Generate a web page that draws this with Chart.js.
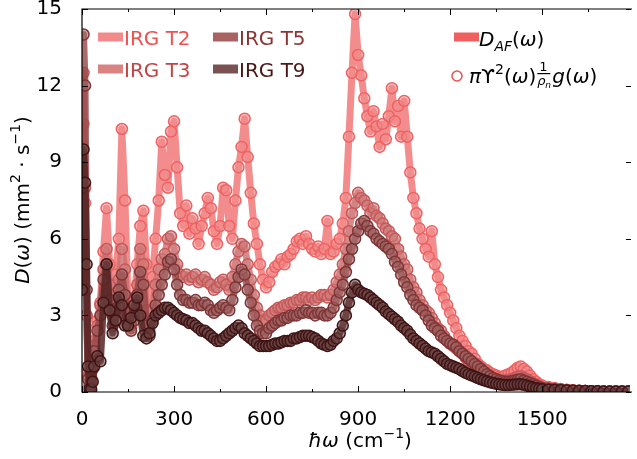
<!DOCTYPE html>
<html>
<head>
<meta charset="utf-8">
<script src="https://cdn.jsdelivr.net/npm/chart.js@4"></script>
<style>
  html, body { margin: 0; padding: 0; background: #fff; }
  canvas { display: block; }
</style>
</head>
<body>
<canvas id="diffChart" width="637" height="459"></canvas>
<script>
// ---- data ----
const freq = [0, 5, 10, 15, 20, 25, 30, 35, 40,
  50, 60, 70, 80, 90, 100, 110, 120, 130, 140,
  150, 160, 170, 180, 190, 200, 210, 220, 230, 240,
  250, 260, 270, 280, 290, 300, 310, 320, 330, 340,
  350, 360, 370, 380, 390, 400, 410, 420, 430, 440,
  450, 460, 470, 480, 490, 500, 510, 520, 530, 540,
  550, 560, 570, 580, 590, 600, 610, 620, 630, 640,
  650, 660, 670, 680, 690, 700, 710, 720, 730, 740,
  750, 760, 770, 780, 790, 800, 810, 820, 830, 840,
  850, 860, 870, 880, 890, 900, 910, 920, 930, 940,
  950, 960, 970, 980, 990, 1000, 1010, 1020, 1030, 1040,
  1050, 1060, 1070, 1080, 1090, 1100, 1110, 1120, 1130, 1140,
  1150, 1160, 1170, 1180, 1190, 1200, 1210, 1220, 1230, 1240,
  1250, 1260, 1270, 1280, 1290, 1300, 1310, 1320, 1330, 1340,
  1350, 1360, 1370, 1380, 1390, 1400, 1410, 1420, 1430, 1440,
  1450, 1460, 1470, 1480, 1490, 1500,
  1520, 1540, 1560, 1580, 1600, 1620, 1640, 1660, 1680, 1700, 1720, 1740, 1760, 1780];

const irgT2 = [6.0, 10.5, 7.4, 3.0, 0.8, 0.4, 0.6, 1.2, 2.0,
  2.8, 3.5, 5.5, 7.2, 5.0, 4.0, 4.6, 6.0, 10.3, 7.5,
  3.5, 2.5, 3.5, 5.0, 6.5, 7.1, 5.0, 3.0, 4.5, 6.0,
  7.5, 9.8, 8.5, 8.0, 10.2, 10.6, 8.8, 7.0, 6.5, 7.3,
  6.2, 6.8, 6.4, 5.8, 6.5, 7.0, 7.6, 7.2, 6.3, 5.8,
  6.5, 8.0, 7.9, 6.5, 6.0, 7.5, 8.8, 9.6, 10.7, 9.2,
  7.8, 6.6, 5.8, 5.0, 4.4, 4.1, 4.3, 4.7, 4.9, 5.0,
  5.2, 5.0, 5.3, 5.4, 5.6, 5.9, 6.0, 5.8, 6.1, 5.8,
  5.6, 5.5, 5.7, 5.4, 5.6, 6.7, 5.4, 5.5, 5.8, 6.0,
  6.6, 7.6, 10.0, 12.5, 14.8, 13.2, 12.4, 11.5, 10.8, 10.2,
  11.0, 10.4, 9.6, 10.5, 9.9, 10.8, 11.9, 10.6, 11.2, 10.0,
  11.4, 10.0, 8.6, 7.6, 7.0, 6.4, 6.0, 5.6, 5.3, 6.3,
  5.0, 4.5, 4.0, 3.7, 3.4, 3.1, 2.8, 2.5, 2.2, 2.0,
  1.8, 1.6, 1.5, 1.3, 1.1, 1.0, 0.9, 0.85, 0.75, 0.7,
  0.65, 0.6, 0.6, 0.65, 0.7, 0.75, 0.85, 0.95, 1.0, 0.9,
  0.8, 0.65, 0.5, 0.4, 0.3, 0.25,
  0.2, 0.16, 0.12, 0.09, 0.07, 0.05, 0.04, 0.03, 0.03, 0.02, 0.02, 0.02, 0.02, 0.02];

const irgT3 = [5.0, 12.5, 8.0, 3.0, 0.6, 0.3, 0.5, 1.0, 1.8,
  2.6, 3.4, 4.8, 5.6, 4.2, 3.0, 3.2, 4.4, 5.6, 4.8,
  3.0, 2.6, 3.0, 4.2, 5.6, 5.0, 3.2, 2.5, 3.2, 4.2,
  4.8, 5.2, 5.4, 6.0, 6.1, 5.6, 5.0, 4.6, 4.5, 4.6,
  4.4, 4.5, 4.6, 4.3, 4.4, 4.5, 4.3, 4.2, 4.0, 4.1,
  4.3, 4.4, 4.2, 4.0, 4.5, 5.0, 5.5, 5.8, 5.7, 5.0,
  4.4, 3.8, 3.3, 3.0, 2.8, 2.8, 3.0, 3.1, 3.2, 3.3,
  3.3, 3.4, 3.4, 3.5, 3.5, 3.6, 3.6, 3.7, 3.7, 3.6,
  3.7, 3.6, 3.7, 3.8, 3.8, 3.7, 3.8, 4.0, 4.3, 4.6,
  5.0, 5.6, 6.3, 7.0, 7.4, 7.8, 7.6, 7.5, 7.3, 7.0,
  7.2, 6.9, 6.8, 6.6, 6.4, 6.3, 6.1, 6.0, 5.6, 5.3,
  5.0, 4.8, 4.4, 4.1, 3.9, 3.6, 3.4, 3.2, 3.1, 2.9,
  2.7, 2.5, 2.4, 2.2, 2.0, 1.9, 1.8, 1.7, 1.6, 1.5,
  1.35, 1.2, 1.1, 1.0, 0.9, 0.85, 0.75, 0.7, 0.6, 0.55,
  0.5, 0.48, 0.45, 0.45, 0.48, 0.5, 0.55, 0.6, 0.62, 0.55,
  0.5, 0.42, 0.35, 0.28, 0.22, 0.18,
  0.15, 0.12, 0.1, 0.08, 0.06, 0.05, 0.04, 0.03, 0.03, 0.02, 0.02, 0.02, 0.02, 0.02];

const irgT5 = [8.0, 14.0, 12.0, 4.0, 0.5, 0.2, 0.4, 0.9, 1.6,
  2.4, 3.0, 4.4, 5.0, 3.6, 2.6, 2.8, 4.0, 4.6, 3.8,
  2.6, 2.4, 2.8, 3.8, 4.7, 4.2, 2.6, 2.2, 2.8, 3.4,
  3.8, 4.2, 4.6, 5.1, 5.2, 4.8, 4.2, 3.8, 3.6, 3.6,
  3.5, 3.5, 3.6, 3.4, 3.4, 3.5, 3.4, 3.2, 3.1, 3.2,
  3.3, 3.4, 3.3, 3.2, 3.6, 4.1, 4.5, 4.8, 4.6, 4.0,
  3.5, 3.0, 2.6, 2.4, 2.3, 2.3, 2.5, 2.6, 2.7, 2.8,
  2.8, 2.9, 2.9, 3.0, 3.0, 3.0, 3.1, 3.1, 3.2, 3.1,
  3.1, 3.0, 3.1, 3.1, 3.0, 3.0, 3.1, 3.3, 3.6, 3.9,
  4.2, 4.7, 5.2, 5.6, 6.0, 6.3, 6.6, 6.7, 6.5, 6.3,
  6.2, 6.0, 5.9, 5.8, 5.7, 5.6, 5.4, 5.1, 4.9, 4.6,
  4.3, 4.1, 3.8, 3.6, 3.4, 3.3, 3.2, 3.0, 2.8, 2.6,
  2.5, 2.4, 2.2, 2.1, 2.0, 1.9, 1.85, 1.75, 1.6, 1.5,
  1.4, 1.3, 1.2, 1.1, 1.0, 0.9, 0.8, 0.7, 0.62, 0.55,
  0.5, 0.45, 0.42, 0.4, 0.4, 0.42, 0.45, 0.48, 0.5, 0.45,
  0.4, 0.35, 0.3, 0.25, 0.2, 0.16,
  0.13, 0.11, 0.09, 0.07, 0.06, 0.05, 0.04, 0.03, 0.03, 0.02, 0.02, 0.02, 0.02, 0.02];

const irgT9 = [4.0, 9.5, 8.2, 5.0, 1.0, 0.1, 0.1, 0.4, 1.0,
  1.4, 1.2, 3.5, 5.0, 3.2, 2.3, 2.8, 3.7, 3.4, 2.6,
  2.6, 2.9, 3.4, 3.7, 3.0, 2.2, 2.1, 2.3, 2.7, 3.0,
  3.1, 3.2, 3.3, 3.3, 3.2, 3.1, 3.0, 2.9, 2.85, 2.8,
  2.7, 2.7, 2.6, 2.5, 2.4, 2.4, 2.3, 2.2, 2.1, 2.0,
  2.0, 2.1, 2.2, 2.3, 2.4, 2.5, 2.6, 2.5, 2.3, 2.2,
  2.1, 2.0, 1.9, 1.8, 1.8, 1.8, 1.8, 1.85, 1.9, 1.9,
  1.95, 2.0, 2.0, 2.0, 2.1, 2.1, 2.15, 2.2, 2.2, 2.2,
  2.15, 2.1, 2.0, 1.9, 1.85, 1.8, 1.85, 2.0, 2.1, 2.3,
  2.6, 3.0, 3.5, 3.9, 4.2, 4.0, 3.9, 3.85, 3.8, 3.7,
  3.6, 3.5, 3.4, 3.3, 3.15, 3.05, 2.95, 2.85, 2.75, 2.6,
  2.5, 2.4, 2.25, 2.1, 2.0, 1.9, 1.8, 1.7, 1.6, 1.55,
  1.5, 1.4, 1.3, 1.2, 1.1, 1.05, 1.0, 0.95, 0.9, 0.82,
  0.75, 0.7, 0.65, 0.6, 0.55, 0.5, 0.46, 0.42, 0.38, 0.35,
  0.32, 0.3, 0.28, 0.27, 0.27, 0.28, 0.29, 0.3, 0.3, 0.28,
  0.25, 0.22, 0.18, 0.15, 0.13, 0.11,
  0.09, 0.08, 0.07, 0.06, 0.05, 0.04, 0.035, 0.03, 0.03, 0.02, 0.02, 0.02, 0.02, 0.02];

const seriesNames = ['IRG T2', 'IRG T3', 'IRG T5', 'IRG T9'];
const xTicks = [0, 300, 600, 900, 1200, 1500];
const xMinorTicks = [150, 450, 750, 1050, 1350, 1650];
const yTicks = [0, 3, 6, 9, 12, 15];

// ---- styling ----
const FONT = '"DejaVu Sans", "Liberation Sans", sans-serif';
const styles = [
  { line: 'rgba(240,112,112,0.80)', edge: '#ef6262', face: 'rgba(240,140,140,0.55)', text: '#ef5050', swatch: '#f28a8a' },
  { line: 'rgba(205,110,110,0.80)', edge: '#c85858', face: 'rgba(205,125,125,0.55)', text: '#c04646', swatch: '#d88282' },
  { line: 'rgba(150,70,70,0.80)',   edge: '#7e3535', face: 'rgba(160,100,100,0.55)', text: '#8b3535', swatch: '#a86262' },
  { line: 'rgba(85,35,35,0.85)',    edge: '#3f1414', face: 'rgba(110,70,70,0.55)',   text: '#4a1616', swatch: '#7a5252' }
];
const seriesValues = [irgT2, irgT3, irgT5, irgT9];

const datasets = seriesValues.map((vals, i) => ({
  label: seriesNames[i],
  data: freq.map((f, j) => ({ x: f, y: vals[j] })),
  borderColor: styles[i].line,
  borderWidth: 7,
  borderJoinStyle: 'round',
  tension: 0,
  pointRadius: 5.5,
  pointBorderWidth: 1.5,
  pointBorderColor: styles[i].edge,
  pointBackgroundColor: styles[i].face,
  clip: 0,
  order: 4 - i   // T9 drawn on top
}));

// draw a run of text pieces (italic / super / subscript) one after another
function drawRich(ctx, segs, x, y, align) {
  const fontOf = s => (s.it ? 'italic ' : '') + (s.size || 20) + 'px ' + FONT;
  let total = 0;
  segs.forEach(s => { ctx.font = fontOf(s); s.w = ctx.measureText(s.t).width; total += s.w; });
  let cx = align === 'center' ? x - total / 2 : x;
  ctx.textAlign = 'left';
  ctx.textBaseline = 'alphabetic';
  segs.forEach(s => {
    ctx.font = fontOf(s);
    ctx.fillText(s.t, cx, y + (s.dy || 0));
    cx += s.w;
  });
  return cx;
}

const decorPlugin = {
  id: 'decor',
  afterDatasetsDraw(chart) {
    const { ctx, chartArea: a, scales: { x, y } } = chart;
    ctx.save();
    ctx.strokeStyle = '#000';
    ctx.lineWidth = 1.2;
    // frame: left, top, bottom (right edge falls off the canvas)
    ctx.beginPath();
    ctx.moveTo(a.right + 2, a.top); ctx.lineTo(a.left, a.top);
    ctx.lineTo(a.left, a.bottom); ctx.lineTo(a.right + 2, a.bottom);
    ctx.stroke();
    // inward ticks
    ctx.lineWidth = 1;
    ctx.beginPath();
    xTicks.forEach(v => {
      const px = Math.round(x.getPixelForValue(v)) + 0.5;
      ctx.moveTo(px, a.bottom); ctx.lineTo(px, a.bottom - 6);
      ctx.moveTo(px, a.top); ctx.lineTo(px, a.top + 6);
    });
    xMinorTicks.forEach(v => {
      const px = Math.round(x.getPixelForValue(v)) + 0.5;
      ctx.moveTo(px, a.bottom); ctx.lineTo(px, a.bottom - 3);
      ctx.moveTo(px, a.top); ctx.lineTo(px, a.top + 3);
    });
    yTicks.forEach(v => {
      const py = Math.round(y.getPixelForValue(v)) + 0.5;
      ctx.moveTo(a.left, py); ctx.lineTo(a.left + 6, py);
      ctx.moveTo(a.right + 1, py); ctx.lineTo(a.right - 4, py);
    });
    ctx.stroke();
    ctx.restore();
  },
  afterDraw(chart) {
    const { ctx } = chart;
    ctx.save();
    ctx.fillStyle = '#000';

    // axis titles
    drawRich(ctx, [
      { t: 'ħω', it: true }, { t: ' (cm' }, { t: '−1', size: 14, dy: -9 }, { t: ')' }
    ], 360, 447, 'center');
    ctx.save();
    ctx.translate(22, 200);
    ctx.rotate(-Math.PI / 2);
    drawRich(ctx, [
      { t: 'D', it: true }, { t: '(' }, { t: 'ω', it: true }, { t: ') (mm' },
      { t: '2', size: 14, dy: -9 }, { t: ' · s' }, { t: '−1', size: 14, dy: -9 }, { t: ')' }
    ], 0, 7, 'center');
    ctx.restore();

    // left legend: two columns, T2/T3 then T5/T9
    const slots = [
      { i: 0, sx: 98, row: 0 }, { i: 1, sx: 98, row: 1 },
      { i: 2, sx: 213, row: 0 }, { i: 3, sx: 213, row: 1 }
    ];
    slots.forEach(s => {
      const yc = s.row === 0 ? 37 : 69;
      ctx.strokeStyle = styles[s.i].swatch;
      ctx.lineWidth = 9;
      ctx.beginPath(); ctx.moveTo(s.sx, yc); ctx.lineTo(s.sx + 25, yc); ctx.stroke();
      ctx.fillStyle = styles[s.i].text;
      ctx.font = '20px ' + FONT;
      ctx.textAlign = 'left';
      ctx.textBaseline = 'alphabetic';
      ctx.fillText(seriesNames[s.i], s.sx + 26, yc + 8);
    });

    // right legend
    ctx.strokeStyle = '#ef5f5f';
    ctx.lineWidth = 9;
    ctx.beginPath(); ctx.moveTo(454, 37); ctx.lineTo(479, 37); ctx.stroke();
    ctx.fillStyle = '#000';
    drawRich(ctx, [
      { t: 'D', it: true }, { t: 'AF', it: true, size: 14, dy: 5 },
      { t: '(' }, { t: 'ω', it: true }, { t: ')' }
    ], 479, 46);

    ctx.strokeStyle = '#ef5050';
    ctx.lineWidth = 1.5;
    ctx.fillStyle = '#fff';
    ctx.beginPath(); ctx.arc(457, 76, 5, 0, Math.PI * 2); ctx.fill(); ctx.stroke();

    ctx.fillStyle = '#000';
    let cx = drawRich(ctx, [
      { t: 'π', it: true }, { t: 'ϒ' }, { t: '2', size: 14, dy: -9 },
      { t: '(' }, { t: 'ω', it: true }, { t: ')' }
    ], 469, 83);
    // fraction 1 / rho_n
    ctx.font = '13px ' + FONT;
    ctx.textAlign = 'center';
    ctx.fillText('1', cx + 7, 71);
    ctx.fillRect(cx + 1, 73, 13, 1.2);
    ctx.textAlign = 'left';
    ctx.font = 'italic 13px ' + FONT;
    ctx.fillText('ρ', cx + 1, 85);
    ctx.font = 'italic 9px ' + FONT;
    ctx.fillText('n', cx + 9, 88);
    drawRich(ctx, [
      { t: 'g', it: true }, { t: '(' }, { t: 'ω', it: true }, { t: ')' }
    ], cx + 16, 83);

    ctx.restore();
  }
};

new Chart(document.getElementById('diffChart'), {
  type: 'line',
  data: { datasets },
  options: {
    responsive: false,
    animation: false,
    events: [],
    layout: { padding: { left: 0, top: 9, right: 0, bottom: 0 } },
    plugins: { legend: { display: false }, tooltip: { enabled: false } },
    scales: {
      x: {
        type: 'linear',
        min: 0,
        max: 1786,
        grid: { display: false },
        border: { display: false },
        afterBuildTicks: s => { s.ticks = xTicks.map(v => ({ value: v })); },
        afterFit: s => { s.height = 67; s.paddingLeft = 0; s.paddingRight = 0; },
        ticks: {
          color: '#000',
          font: { family: FONT, size: 20 },
          padding: 8,
          maxRotation: 0,
          autoSkip: false,
          callback: v => String(v)
        }
      },
      y: {
        min: 0,
        max: 15,
        grid: { display: false },
        border: { display: false },
        afterBuildTicks: s => { s.ticks = yTicks.map(v => ({ value: v })); },
        afterFit: s => { s.width = 82; s.paddingTop = 0; s.paddingBottom = 0; },
        ticks: {
          color: '#000',
          font: { family: FONT, size: 20 },
          padding: 12,
          callback: v => String(v)
        }
      }
    }
  },
  plugins: [decorPlugin]
});
</script>
</body>
</html>
